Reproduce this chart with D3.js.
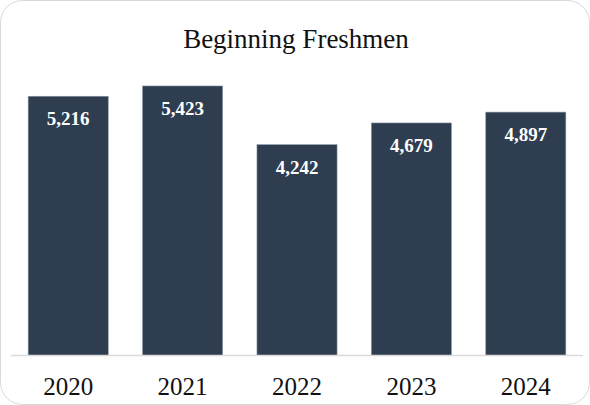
<!DOCTYPE html>
<html>
<head>
<meta charset="utf-8" />
<title>Beginning Freshmen</title>
<script src="https://cdn.jsdelivr.net/npm/d3@7"></script>
<style>
  body { margin: 0; background: #fff; }
  svg { display: block; }
</style>
</head>
<body>
<div id="chart"></div>
<script>
  // data
  var years = ["2020", "2021", "2022", "2023", "2024"];
  var freshmen = [5216, 5423, 4242, 4679, 4897];
  var title = "Beginning Freshmen";

  var width = 590, height = 405;
  var baseY = 355.5;
  var font = "'Liberation Serif', 'DejaVu Serif', serif";

  var svg = d3.select("#chart").append("svg")
    .attr("width", width)
    .attr("height", height);

  // card outline
  svg.append("rect")
    .attr("x", 0.5).attr("y", 0.5)
    .attr("width", width - 1).attr("height", height - 1)
    .attr("rx", 22).attr("ry", 22)
    .attr("fill", "#fff")
    .attr("stroke", "#d9d9d9")
    .attr("stroke-width", 1);

  svg.append("text")
    .attr("x", width / 2 + 1)
    .attr("y", 48)
    .attr("text-anchor", "middle")
    .attr("font-family", font)
    .attr("font-size", 27)
    .attr("fill", "#111")
    .text(title);

  var x = d3.scaleBand()
    .domain(years)
    .range([11, 583])
    .paddingInner(0.3)
    .paddingOuter(0.15);

  var y = d3.scaleLinear()
    .domain([0, 6000])
    .range([baseY, baseY - 298.2]);

  var data = years.map(function(yr, i) { return { year: yr, value: freshmen[i] }; });

  svg.selectAll("rect.bar").data(data).enter().append("rect")
    .attr("class", "bar")
    .attr("x", function(d) { return x(d.year); })
    .attr("y", function(d) { return y(d.value); })
    .attr("width", x.bandwidth())
    .attr("height", function(d) { return baseY - y(d.value); })
    .attr("fill", "#2e3e50")
    .attr("stroke", "#8995a2")
    .attr("stroke-width", 0.6);

  var fmt = d3.format(",");
  svg.selectAll("text.val").data(data).enter().append("text")
    .attr("class", "val")
    .attr("x", function(d) { return x(d.year) + x.bandwidth() / 2; })
    .attr("y", function(d) { return y(d.value) + 29; })
    .attr("text-anchor", "middle")
    .attr("font-family", font)
    .attr("font-weight", "bold")
    .attr("font-size", 19)
    .attr("fill", "#fff")
    .text(function(d) { return fmt(d.value); });

  // baseline axis
  var axis = svg.append("g")
    .attr("transform", "translate(0," + baseY + ")")
    .call(d3.axisBottom(x).tickSize(0).tickPadding(0));
  axis.select(".domain")
    .attr("d", "M11,0H583")
    .attr("stroke", "#d9d9d9")
    .attr("stroke-width", 1.5);
  axis.selectAll(".tick text")
    .attr("y", 0)
    .attr("dy", 0)
    .attr("transform", "translate(0,39.5)")
    .attr("font-family", font)
    .attr("font-size", 25)
    .attr("fill", "#111");
</script>
</body>
</html>
